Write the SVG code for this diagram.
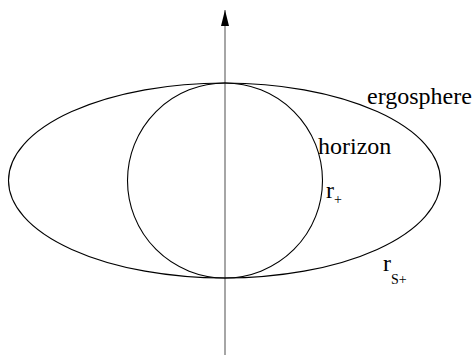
<svg xmlns="http://www.w3.org/2000/svg" width="476" height="361" viewBox="0 0 476 361">
<style>
.c{fill:none;stroke:#000;stroke-width:1.1}
.t{font-family:"Liberation Serif",serif;font-size:24px;fill:#000}
.s{font-family:"Liberation Serif",serif;font-size:14px;fill:#000}
</style>
<g id="connectors">
<line x1="225" y1="355" x2="225" y2="10" stroke="#808080" stroke-width="1.4"/>
<path d="M221,26 L225,10 L229,26 Z" fill="#000"/>
</g>
<g id="ergosphere">
<ellipse class="c" cx="224.5" cy="180.5" rx="216" ry="97.5"/>
<text class="t" x="367" y="104">ergosphere</text>
</g>
<g id="horizon">
<circle class="c" cx="225" cy="180.5" r="97.5"/>
<text class="t" x="318" y="154">horizon</text>
</g>
<g id="rplus">
<text class="t" x="326" y="198">r</text>
<text class="s" x="334" y="204">+</text>
</g>
<g id="rsplus">
<text class="t" x="383" y="271">r</text>
<text class="s" x="391" y="284">S+</text>
</g>
</svg>
